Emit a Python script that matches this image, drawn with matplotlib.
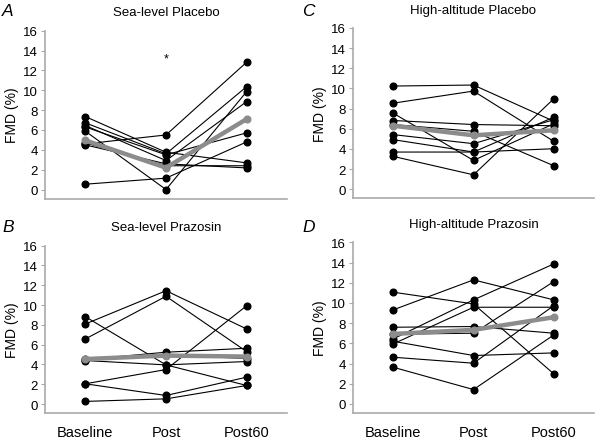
import matplotlib
matplotlib.use("Agg")
import matplotlib.pyplot as plt
import numpy as np

plt.rcParams['font.family'] = ['Liberation Sans', 'DejaVu Sans']

# ================== data ==================
timepoints = ['Baseline', 'Post', 'Post60']

# A: sea-level placebo (one row per subject)
sl_placebo = [
    [0.54, 1.15, 4.8],
    [4.6, 5.5, 12.83],
    [7.35, 3.76, 2.69],
    [5.88, 0.0, 9.87],
    [6.72, 3.6, 10.37],
    [6.45, 2.92, 8.86],
    [4.5, 2.59, 2.18],
    [6.3, 3.5, 5.71],
    [4.7, 2.4, 2.4],
]
sl_placebo_mean = [4.95, 2.2, 7.1]

# B: sea-level prazosin
sl_prazosin = [
    [8.09, 11.45, 7.59],
    [6.58, 10.89, 5.3],
    [8.83, 3.96, 1.88],
    [2.05, 3.49, 9.94],
    [2.05, 0.87, 2.72],
    [0.27, 0.53, 1.88],
    [4.4, 3.96, 4.3],
    [4.5, 5.24, 5.64],
    [4.57, 4.97, 4.6],
]
sl_prazosin_mean = [4.55, 4.9, 4.8]

# C: high-altitude placebo
ha_placebo = [
    [10.24, 10.34, 6.75],
    [8.54, 9.74, 4.75],
    [7.55, 2.86, 6.5],
    [6.82, 6.42, 6.3],
    [6.42, 5.75, 2.33],
    [5.42, 4.52, 6.9],
    [4.92, 3.69, 7.15],
    [3.69, 3.69, 4.02],
    [3.26, 1.43, 8.98],
]
ha_placebo_mean = [6.3, 5.35, 5.85]

# D: high-altitude prazosin
ha_prazosin = [
    [11.06, 9.9, 2.97],
    [9.31, 12.28, 10.3],
    [7.59, 7.66, 7.0],
    [6.9, 7.0, 12.11],
    [6.44, 10.3, 13.86],
    [5.94, 9.57, 9.57],
    [6.2, 4.79, 5.05],
    [4.62, 4.03, 9.73],
    [3.63, 1.42, 6.83],
]
ha_prazosin_mean = [6.93, 7.33, 8.58]

# ================== layout (pixel boxes) ==================
W, H = 597, 439
fig = plt.figure(figsize=(W / 100, H / 100), dpi=100)


def add_axes(left, right, top, bottom):
    return fig.add_axes([left / W, 1 - bottom / H, (right - left) / W, (bottom - top) / H])


panels = [
    # letter, letter pos (px), title, data, mean, box, show xlabels, star
    ('A', (2, 11), 'Sea-level Placebo', sl_placebo, sl_placebo_mean, (45, 287, 31.7, 199.5), False, True),
    ('C', (302, 11), 'High-altitude Placebo', ha_placebo, ha_placebo_mean, (353, 594, 29, 199.3), False, False),
    ('B', (2, 228), 'Sea-level Prazosin', sl_prazosin, sl_prazosin_mean, (45, 287, 246.7, 414), True, False),
    ('D', (302, 228), 'High-altitude Prazosin', ha_prazosin, ha_prazosin_mean, (353, 594, 243.3, 414), True, False),
]

spine_col = '#aaaaaa'
x = np.arange(3)

for letter, lpos, title, data, mean, box, show_x, star in panels:
    ax = add_axes(*box)
    for subj in data:
        ax.plot(x, subj, color='black', lw=0.8, marker='o', ms=4.8, zorder=2)
    ax.plot(x, mean, color='#8c8c8c', lw=3.2, marker='o', ms=4.8, zorder=3)

    ax.set_xlim(-0.5, 2.5)
    ax.set_ylim(-0.9, 16)
    ax.set_yticks(range(0, 17, 2))
    ax.tick_params(axis='y', length=3, width=0.8, color=spine_col, labelsize=9.5, pad=2)
    ax.set_xticks(x)
    if show_x:
        ax.set_xticklabels(timepoints, fontsize=10.5)
        ax.tick_params(axis='x', length=0, pad=9)
    else:
        ax.set_xticklabels([])
        ax.tick_params(axis='x', length=0)

    for s in ['top', 'right']:
        ax.spines[s].set_visible(False)
    for s in ['left', 'bottom']:
        ax.spines[s].set_color(spine_col)
        ax.spines[s].set_linewidth(1.2)
    ax.spines['left'].set_bounds(-0.9, 16)

    ax.set_ylabel('FMD (%)', fontsize=10, labelpad=3)
    ax.set_title(title, fontsize=9.5, pad=11)
    fig.text(lpos[0] / W, 1 - lpos[1] / H, letter, fontsize=12.5,
             style='italic', ha='left', va='center')
    if star:
        ax.text(1, 13.2, '*', ha='center', va='center', fontsize=9)

fig.savefig('out.png', dpi=100)
